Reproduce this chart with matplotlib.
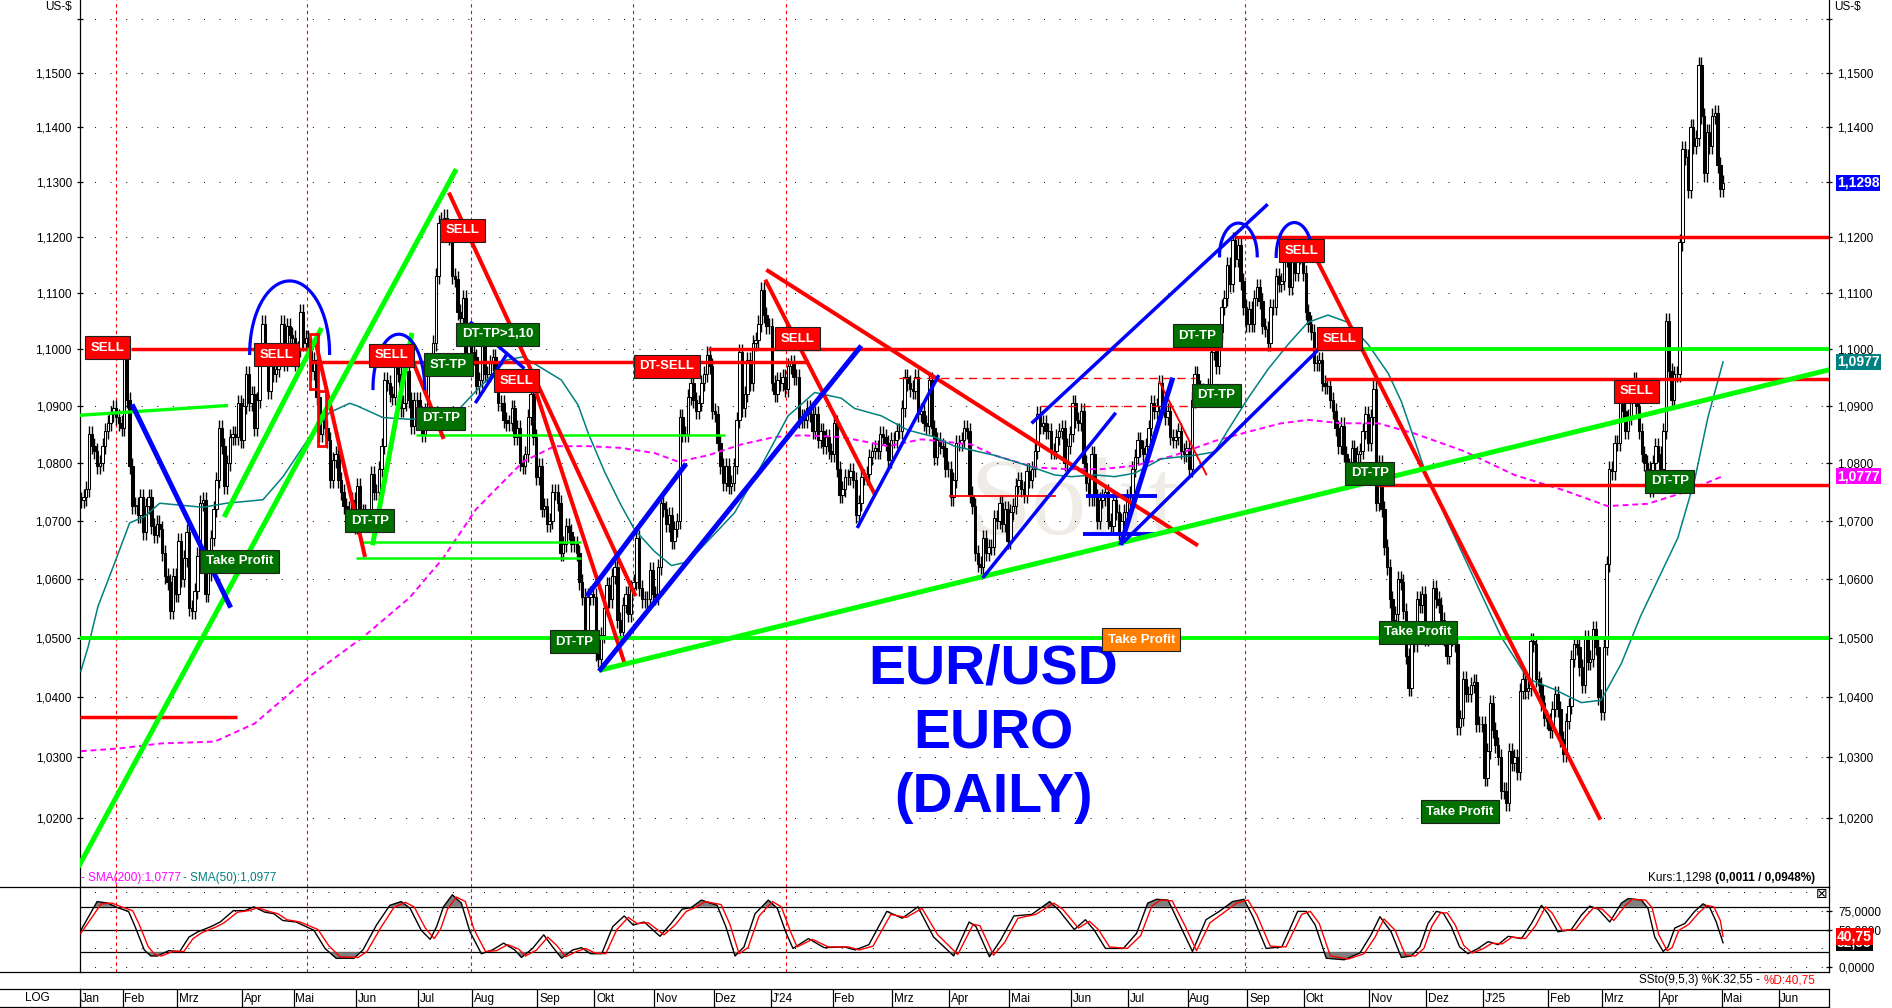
import numpy as np
import matplotlib
matplotlib.use("Agg")
import matplotlib.pyplot as plt
import matplotlib.transforms as mtransforms
from matplotlib.lines import Line2D
from matplotlib.patches import Rectangle
from matplotlib.ticker import FixedLocator, FuncFormatter, NullLocator, NullFormatter

plt.rcParams['font.family'] = ['Liberation Sans', 'DejaVu Sans']

# ---------------- data ----------------
month_names = ["Jan", "Feb", "Mrz", "Apr", "Mai", "Jun", "Jul", "Aug", "Sep", "Okt", "Nov", "Dez",
               "J'24", "Feb", "Mrz", "Apr", "Mai", "Jun", "Jul", "Aug", "Sep", "Okt", "Nov", "Dez",
               "J'25", "Feb", "Mrz", "Apr", "Mai", "Jun"]
month_days = [16, 20, 24, 19, 23, 23, 20, 24, 21, 22, 22, 21,
              23, 22, 21, 22, 23, 21, 22, 22, 21, 24, 21, 21,
              24, 20, 21, 23, 21, 19]

# daily closes, pips above 1,0000
close_2023 = [
    735, 740, 755, 850, 830, 820, 795, 800, 830, 855, 870, 885, 895, 880, 870, 860,
    990, 910, 795, 725, 727, 710, 740, 680, 725, 740, 690, 675, 695, 685, 645, 605, 595, 545, 605, 575,
    665, 600, 635, 680, 550, 545, 580, 640, 730, 735, 575, 610, 670, 720, 770, 860, 830, 760, 800, 845,
    850, 845, 905, 840,
    900, 955, 905, 920, 860, 910, 990, 1045, 990, 925, 970, 955, 965, 990, 1045, 975, 1040, 1025, 1020,
    975, 1000, 1065, 1010, 1020, 1005, 960, 980, 915, 850, 875, 860, 840, 770, 805, 815, 770, 750, 725,
    720, 705, 735, 690,
    760, 710, 715, 695, 700, 780, 750, 750, 790, 830, 945, 940, 920, 915, 980, 955, 895, 905, 960, 910,
    865, 910, 910,
    880, 850, 890, 970, 970, 1010, 1130, 1225, 1230, 1235, 1210, 1200, 1130, 1125, 1065, 1055, 1090, 975,
    1015, 995,
    985, 935, 945, 1005, 955, 955, 975, 985, 950, 905, 905, 875, 870, 870, 895, 845, 860, 800, 795, 815,
    880, 920, 845, 775,
    795, 720, 725, 695, 700, 750, 750, 730, 645, 660, 690, 680, 660, 660, 645, 595, 570, 500, 570, 575, 570,
    475, 465, 505, 550, 590, 565, 605, 620, 530, 510, 555, 575, 540, 585, 595, 670, 585, 565, 565, 565,
    615, 575,
    570, 620, 730, 720, 695, 710, 665, 685, 700, 880, 850, 850, 915, 940, 910, 890, 905, 940, 955, 990,
    970, 890,
    885, 835, 795, 765, 795, 760, 765, 795, 875, 995, 895, 920, 980, 940, 1010, 1015, 1045, 1105, 1060,
    1040, 1040,
]
close_2024 = [
    940, 920, 945, 940, 950, 930, 970, 975, 950, 950, 875, 880, 875, 895, 885, 855, 885, 840, 855, 830,
    845, 820, 815,
    870, 790, 745, 755, 775, 775, 785, 770, 710, 730, 775, 775, 780, 810, 820, 825, 820, 850, 845, 835,
    805, 840,
    840, 855, 855, 895, 950, 940, 930, 925, 950, 885, 890, 870, 865, 945, 860, 810, 840, 830, 825, 790, 790,
    740, 770, 835, 835, 840, 860, 855, 745, 725, 645, 625, 620, 670, 645, 655, 655, 705, 700, 730, 695,
    720, 665,
    715, 725, 760, 770, 755, 745, 785, 770, 790, 820, 885, 865, 870, 855, 855, 820, 820, 845, 855, 860,
    800, 830, 850,
    905, 875, 870, 890, 800, 765, 740, 815, 740, 700, 735, 740, 750, 700, 690, 735, 715, 680, 700, 715, 740,
    745, 790, 810, 840, 825, 815, 830, 860, 905, 890, 900, 940, 900, 880, 890, 845, 840, 845, 855, 820,
    815, 825,
    790, 910, 955, 930, 925, 920, 915, 935, 995, 1010, 970, 1030, 1075, 1090, 1150, 1115, 1195, 1160, 1185,
    1120, 1075, 1045,
    1070, 1045, 1090, 1110, 1085, 1040, 1035, 1010, 1075, 1075, 1130, 1115, 1120, 1160, 1165, 1110, 1180,
    1135, 1175, 1165, 1135,
    1065, 1045, 1030, 975, 975, 980, 940, 935, 935, 910, 890, 860, 830, 865, 815, 795, 780, 825, 795, 815,
    820, 855, 885, 835,
    880, 930, 730, 800, 720, 655, 620, 565, 530, 540, 600, 595, 545, 470, 415, 495, 490, 565, 555, 575, 500,
    510, 515, 585, 565, 555, 530, 500, 470, 500, 510, 490, 350, 365, 430, 405, 405, 420, 425, 355, 355, 355,
]
close_2025 = [
    265, 310, 390, 345, 320, 300, 245, 245, 225, 310, 290, 300, 275, 410, 430, 410, 415, 495, 490, 430,
    420, 390, 365, 360,
    345, 380, 405, 380, 330, 305, 360, 385, 465, 490, 485, 450, 420, 500, 460, 465, 515, 485, 400, 375,
    485, 625, 790, 785, 835, 835, 920, 890, 855, 880, 920, 945, 900, 855, 815, 800, 790, 755, 800, 830, 815,
    790, 855, 1050, 960, 910, 955, 955, 1190, 1360, 1345, 1285, 1400, 1365, 1380, 1515, 1420, 1315, 1390,
    1365, 1420, 1425, 1330, 1287,
    1298,
]

sma50_days = [0, 2.7, 6.3, 13.1, 18, 23.5, 29.1, 45.1, 53.7, 67.2, 74.6, 84.4, 91.8, 99.2, 101.7, 111.5,
              121.3, 128.7, 139.8, 145.9, 157, 163.2, 168.7, 177.3, 183.5, 187.2, 193.3, 199.4, 204.4, 211.7,
              217.9, 224, 231.4, 241.3, 251.1, 261, 270.8, 280.6, 285.5, 295.4, 305.2, 315, 322.4, 337.2,
              349.5, 359.3, 365.5, 374.1, 381.5, 388.9, 398.7, 411, 418.4, 423.3, 430.7, 438.1, 445.5,
              452.8, 460.2, 467.6, 475, 482.4, 487.3, 495.9, 504.5, 514.3, 524.2, 534, 543.8, 553.7, 561,
              568.5, 575.6, 582, 589.3, 595.5, 600.4, 606]
sma50_vals = [1.0444, 1.0485, 1.0553, 1.0635, 1.0696, 1.0707, 1.0730, 1.0723, 1.0730, 1.0736, 1.0776,
              1.0845, 1.0888, 1.0904, 1.0900, 1.0879, 1.0876, 1.0879, 1.0895, 1.0926, 1.0980, 1.0986,
              1.0970, 1.0945, 1.0901, 1.0852, 1.0784, 1.0726, 1.0684, 1.0647, 1.0623, 1.0629, 1.0665,
              1.0714, 1.0795, 1.0882, 1.0923, 1.0913, 1.0895, 1.0882, 1.0857, 1.0845, 1.0829, 1.0813,
              1.0795, 1.0779, 1.0776, 1.0779, 1.0776, 1.0782, 1.0807, 1.0813, 1.0819, 1.0857, 1.0913,
              1.0964, 1.1008, 1.1047, 1.1060, 1.1047, 1.1008, 1.0957, 1.0907, 1.0788, 1.0697, 1.0599,
              1.0501, 1.0431, 1.0413, 1.0391, 1.0395, 1.0457, 1.0537, 1.0599, 1.0670, 1.0770, 1.0879, 1.0977]

sma200_days = [0, 14.9, 29.7, 49.4, 64.1, 84.4, 104.1, 121.3, 133.6, 145.9, 163.2, 174.8, 187.2, 199.4,
               211.7, 220.4, 231.4, 243.7, 256, 265.9, 280.6, 297.9, 310.2, 328.6, 337.2, 352, 364.3, 376.6,
               388.9, 403.6, 418.4, 430.7, 443, 452.8, 465.2, 478.7, 492.2, 510.6, 529, 547.5, 563.4, 578.2,
               590.4, 606]
sma200_vals = [1.0310, 1.0315, 1.0323, 1.0326, 1.0356, 1.0435, 1.0501, 1.0568, 1.0635, 1.0720, 1.0802,
               1.0829, 1.0829, 1.0826, 1.0817, 1.0802, 1.0813, 1.0832, 1.0845, 1.0848, 1.0845, 1.0829,
               1.0841, 1.0832, 1.0813, 1.0792, 1.0789, 1.0789, 1.0795, 1.0813, 1.0838, 1.0854, 1.0869,
               1.0875, 1.0869, 1.0869, 1.0851, 1.0820, 1.0779, 1.0752, 1.0725, 1.0729, 1.0747, 1.0777]

# slow stochastic (9,5,3)
k_days = [0, 6, 10, 13.5, 17.6, 20, 23.4, 25.8, 28.3, 32.4, 36.5, 39.9, 43.2, 48.1, 51.4, 56.3, 60.5, 63.8,
          67.9, 71.2, 74.5, 79.4, 86, 90.1, 94.2, 100.8, 104.1, 109.1, 114, 118.2, 121.5, 125.6, 128.9,
          131.3, 133.8, 137.1, 140.4, 143.6, 147.8, 151.9, 156, 160.1, 162.6, 166.7, 170.8, 174.1, 177.4,
          181.5, 184.8, 188.1, 192.2, 196.3, 200.5, 203.8, 207.9, 213.7, 217.8, 221.9, 225.2, 229, 234.8,
          238, 241.4, 244.7, 248.8, 253.7, 257, 260.3, 262.8, 268.5, 274.3, 281.7, 285.8, 290.8, 297.4,
          303.1, 308.9, 314.7, 322.1, 327.8, 330.3, 335.3, 339.4, 344.3, 350.9, 357.5, 360.8, 366.6, 370.7,
          374, 378.1, 384.7, 389.6, 393.7, 397, 401.2, 406.1, 410.2, 415.2, 420.1, 425, 429.2, 432.5, 437.4,
          443.2, 449, 452.2, 455.5, 459.6, 466.2, 472, 476.1, 479.4, 483.5, 487.3, 491, 494.1, 497.1, 500.2,
          502.7, 505.7, 508.8, 511.9, 515.6, 519.3, 523, 526.7, 531.6, 535.3, 539, 541.4, 545.1, 550, 553.7,
          556.8, 559.9, 564.2, 568.5, 571, 575.9, 578.3, 580.8, 583.9, 585.7, 588.2, 591.9, 595.5, 598.6,
          601.1, 603.5, 606]
k_vals = [49, 87, 85, 79, 74, 54, 23, 15, 15, 22, 21, 40, 47, 54, 60, 75, 75, 80, 73, 71,
          62, 60, 49, 25, 12, 12, 23, 56, 82, 87, 78, 49, 37, 54, 80, 96, 85, 47, 18, 23,
          32, 23, 13, 25, 43, 27, 12, 23, 26, 18, 18, 54, 68, 56, 60, 41, 58, 77, 79, 89,
          82, 54, 15, 27, 71, 89, 78, 45, 25, 38, 26, 27, 23, 30, 74, 65, 80, 40, 15, 60,
          54, 14, 36, 68, 70, 87, 76, 50, 63, 49, 25, 25, 45, 85, 90, 89, 52, 21, 63, 74,
          87, 90, 67, 25, 27, 74, 74, 56, 12, 10, 19, 43, 67, 47, 13, 15, 27, 58, 74, 72,
          54, 27, 18, 25, 34, 30, 41, 38, 58, 82, 71, 47, 50, 69, 81, 77, 60, 85, 91, 89,
          78, 40, 21, 27, 52, 58, 74, 84, 79, 60, 32.55]
d_days = [0, 7.5, 11.5, 15, 19.1, 21.5, 24.9, 27.3, 29.8, 33.9, 38, 41.4, 44.7, 49.6, 52.9, 57.8, 62, 65.3,
          69.4, 72.7, 76, 80.9, 87.5, 91.6, 95.7, 102.3, 105.6, 110.6, 115.5, 119.7, 123, 127.1, 130.4,
          132.8, 135.3, 138.6, 141.9, 145.1, 149.3, 153.4, 157.5, 161.6, 164.1, 168.2, 172.3, 175.6, 178.9,
          183, 186.3, 189.6, 193.7, 197.8, 202, 205.3, 209.4, 215.2, 219.3, 223.4, 226.7, 230.5, 236.3,
          239.5, 242.9, 246.2, 250.3, 255.2, 258.5, 261.8, 264.3, 270, 275.8, 283.2, 287.3, 292.3, 298.9,
          304.6, 310.4, 316.2, 323.6, 329.3, 331.8, 336.8, 340.9, 345.8, 352.4, 359, 362.3, 368.1, 372.2,
          375.5, 379.6, 386.2, 391.1, 395.2, 398.5, 402.7, 407.6, 411.7, 416.7, 421.6, 426.5, 430.7, 434,
          438.9, 444.7, 450.5, 453.7, 457, 461.1, 467.7, 473.5, 477.6, 480.9, 485, 488.8, 492.5, 495.6,
          498.6, 501.7, 504.2, 507.2, 510.3, 513.4, 517.1, 520.8, 524.5, 528.2, 533.1, 536.8, 540.5, 542.9,
          546.6, 551.5, 555.2, 558.3, 561.4, 565.7, 570, 572.5, 577.4, 579.8, 582.3, 585.4, 587.2, 589.7,
          593.4, 597, 600.1, 602.6, 605, 606]
d_vals = [45, 84, 85, 80, 75, 57, 27, 17, 15, 21, 21, 38, 46, 53, 59, 73, 75, 79, 74, 71,
          63, 60, 50, 28, 14, 13, 21, 52, 79, 86, 80, 52, 38, 51, 77, 93, 87, 50, 21, 22,
          30, 24, 15, 23, 40, 29, 14, 21, 25, 19, 18, 50, 66, 58, 59, 43, 56, 74, 79, 87,
          83, 57, 18, 26, 68, 87, 80, 48, 27, 37, 27, 27, 23, 28, 70, 66, 78, 43, 17, 57,
          55, 16, 33, 65, 70, 85, 77, 52, 61, 50, 27, 25, 42, 81, 89, 88, 54, 22, 59, 72,
          85, 89, 69, 28, 27, 70, 74, 58, 15, 11, 18, 40, 64, 49, 16, 15, 25, 55, 72, 72,
          56, 29, 19, 24, 32, 31, 40, 38, 55, 80, 72, 49, 50, 67, 79, 77, 62, 82, 90, 89,
          79, 43, 22, 26, 49, 57, 72, 82, 80, 62, 40.75]

# chart annotations (trading-day index, price)
marker_days_red = [13.0, 83.3, 143.9, 260.1, 429.7]
marker_days_green = [203.9]

red_levels = [(1.1000, 18.6, 84.0), (1.0977, 84.3, 268.5), (1.1000, 231.5, 473.6), (1.1200, 425.8, 645.1),
              (1.0946, 459.0, 645.1), (1.0761, 478.7, 645.1), (1.0367, -0.5, 57.6)]
thin_red_levels = [(1.0742, 320.6, 359.3)]
dashed_red_levels = [(1.0949, 302.0, 411.0), (1.0900, 353.8, 411.0)]
green_levels = [(1.0500, -0.5, 645.1), (1.1000, 473.6, 645.1)]
thin_green_levels = [(1.0849, 123.8, 237.6), (1.0664, 102.9, 184.4), (1.0635, 101.7, 184.4)]
blue_levels = [(1.0742, 371.0, 397.3), (1.0677, 369.8, 396.0)]

red_trends = [((86.5, 1.1015), (104.7, 1.0641)), ((123.2, 1.0970), (133.6, 1.0845)),
              ((136.1, 1.1277), (204.4, 1.0574)), ((167.4, 1.0932), (200.7, 1.0456)),
              ((252.9, 1.1120), (292.9, 1.0746)), ((253.6, 1.1139), (411.6, 1.0659)),
              ((456.5, 1.1155), (560.4, 1.0200))]
thin_red_trends = [((398.0, 1.0942), (415.3, 1.0780))]
green_trends = [((-0.5, 1.0123), (138.1, 1.1319)), ((53.3, 1.0710), (88.4, 1.1033)),
                ((107.8, 1.0662), (122.0, 1.1024)), ((192.0, 1.0446), (644.3, 1.0962))]
thin_green_trends = [((-0.5, 1.0883), (53.7, 1.0900))]
blue_trends = [((19.3, 1.0898), (54.9, 1.0555)), ((187.2, 1.0574), (222.8, 1.0795)),
               ((191.8, 1.0447), (287.4, 1.1002)), ((384.0, 1.0662), (402.7, 1.0945))]
thin_blue_trends = [((144.1, 1.1046), (163.2, 1.0967)), ((145.9, 1.0907), (157.0, 1.0989)),
                    ((286.8, 1.0690), (316.3, 1.0951)), ((333.2, 1.0604), (381.5, 1.0885)),
                    ((351.3, 1.0871), (437.5, 1.1257)), ((385.2, 1.0665), (455.9, 1.0995))]
red_boxes = [(84.4, 87.5, 1.0929, 1.1026), (87.5, 90.6, 1.0829, 1.0926)]
blue_arcs = [(62.3, 91.8, 1.0992, 1.1121), (107.8, 126.9, 1.0930, 1.1026),
             (420.2, 434.1, 1.1166, 1.1225), (441.1, 454.5, 1.1165, 1.1226)]

label_texts = ["SELL", "SELL", "SELL", "SELL", "DT-TP>1,10", "ST-TP", "SELL", "DT-TP", "DT-TP",
               "Take Profit", "DT-SELL", "DT-TP", "SELL", "Take Profit", "DT-TP", "DT-TP", "SELL", "SELL",
               "DT-TP", "Take Profit", "Take Profit", "SELL", "DT-TP"]
label_days = [9.9, 72.3, 114.8, 140.9, 153.8, 135.7, 160.7, 132.8, 106.6, 58.5, 216.3, 182.0, 264.5,
              391.3, 412.1, 419.1, 450.5, 464.6, 475.7, 493.5, 509.0, 574.1, 586.4]
label_prices = [1.1002, 1.0990, 1.0989, 1.1212, 1.1026, 1.0972, 1.0944, 1.0878, 1.0700, 1.0630, 1.0969,
                1.0493, 1.1018, 1.0497, 1.1023, 1.0918, 1.1175, 1.1018, 1.0782, 1.0509, 1.0210, 1.0925,
                1.0768]
label_kinds = ["sell", "sell", "sell", "sell", "tp", "tp", "sell", "tp", "tp", "tp", "sell", "tp", "sell",
               "tp2", "tp", "tp", "sell", "sell", "tp", "tp", "tp", "sell", "tp"]

price_ticks = [1.02, 1.03, 1.04, 1.05, 1.06, 1.07, 1.08, 1.09, 1.10, 1.11, 1.12, 1.13, 1.14, 1.15, 1.16]

# ---------------- figure ----------------
W, H = 1892, 1008
fig = plt.figure(figsize=(W / 100, H / 100), dpi=100)
fig.patch.set_facecolor('white')


def box(x0, y0, x1, y1):
    return [x0 / W, 1 - y1 / H, (x1 - x0) / W, (y1 - y0) / H]


ax = fig.add_axes(box(79.5, 0, 1829, 887))
axs = fig.add_axes(box(79.5, 887, 1829, 971.7))
axd = fig.add_axes(box(79.5, 989, 1829, 1006.7))

XMIN, XMAX = -0.5, 645.1
for a in (ax, axs, axd):
    a.set_xlim(XMIN, XMAX)
    a.set_xticks([])
    for s in a.spines.values():
        s.set_linewidth(0.9)

closes = 1 + np.array(close_2023 + close_2024 + close_2025) / 10000.0
days = np.arange(len(closes))
opens = np.concatenate(([closes[0]], closes[:-1]))
up = closes >= opens
lo = np.minimum(opens, closes)
hi = np.maximum(opens, closes)

ax.set_yscale('log')
ax.set_ylim(1.00871, 1.16355)
ax.yaxis.set_major_locator(FixedLocator(price_ticks))
ax.yaxis.set_minor_locator(NullLocator())
ax.yaxis.set_minor_formatter(NullFormatter())
ax.yaxis.set_major_formatter(FuncFormatter(
    lambda v, p: "" if v > 1.155 else f"{v:.4f}".replace('.', ',')))
ax.tick_params(axis='y', which='major', direction='inout', length=4, width=0.9, labelsize=8.5,
               left=True, right=True, labelleft=True, labelright=True, pad=3.5)
ax.spines['top'].set_visible(False)

for p in price_ticks:
    ax.axhline(p, color='black', lw=0.7, ls=(1, (1, 15)), zorder=1)

# watermark
ax.text(0.509, 0.398, "Solit", transform=ax.transAxes, fontsize=80, family='Liberation Serif',
        color='#efece8', zorder=0.5, ha='left', va='baseline')

# candles
ax.vlines(days, lo / 1.0013, hi * 1.0013, color='black', lw=1.0, zorder=2)
ax.bar(days[up], (hi - lo)[up], bottom=lo[up], width=0.9, facecolor='white', edgecolor='black',
       linewidth=0.75, zorder=2.1)
ax.bar(days[~up], (hi - lo)[~up], bottom=lo[~up], width=0.9, facecolor='black', edgecolor='black',
       linewidth=0.75, zorder=2.1)

# moving averages
ax.plot(sma200_days, sma200_vals, color='#ff00ff', lw=1.4, dashes=(3, 2), zorder=3)
ax.plot(sma50_days, sma50_vals, color='#008080', lw=1.1, zorder=3)

# vertical marker lines
for d in marker_days_red:
    ax.axvline(d, color='#ff0000', lw=0.8, dashes=(3, 3), zorder=1.5)
    axs.axvline(d, color='#ff0000', lw=0.8, dashes=(3, 3), zorder=1.5)
for d in marker_days_green:
    ax.axvline(d, color='#008000', lw=0.8, dashes=(3, 3), zorder=1.5)
    axs.axvline(d, color='#008000', lw=0.8, dashes=(3, 3), zorder=1.5)

# horizontal levels
for p, d0, d1 in red_levels:
    ax.plot([d0, d1], [p, p], color='#ff0000', lw=2.5, zorder=4, solid_capstyle='butt')
for p, d0, d1 in thin_red_levels:
    ax.plot([d0, d1], [p, p], color='#ff0000', lw=1.3, zorder=4)
for p, d0, d1 in dashed_red_levels:
    ax.plot([d0, d1], [p, p], color='#ff0000', lw=1.0, dashes=(6, 4), zorder=4)
for p, d0, d1 in green_levels:
    ax.plot([d0, d1], [p, p], color='#00ff00', lw=2.8, zorder=4, solid_capstyle='butt')
for p, d0, d1 in thin_green_levels:
    ax.plot([d0, d1], [p, p], color='#00ff00', lw=1.8, zorder=4, solid_capstyle='butt')
for p, d0, d1 in blue_levels:
    ax.plot([d0, d1], [p, p], color='#0000ff', lw=2.8, zorder=4, solid_capstyle='butt')

# trend lines
for (d0, p0), (d1, p1) in red_trends:
    ax.plot([d0, d1], [p0, p1], color='#ff0000', lw=2.9, zorder=4)
for (d0, p0), (d1, p1) in thin_red_trends:
    ax.plot([d0, d1], [p0, p1], color='#ff0000', lw=1.4, zorder=4)
for (d0, p0), (d1, p1) in green_trends:
    ax.plot([d0, d1], [p0, p1], color='#00ff00', lw=3.6, zorder=4)
for (d0, p0), (d1, p1) in thin_green_trends:
    ax.plot([d0, d1], [p0, p1], color='#00ff00', lw=2.4, zorder=4)
for (d0, p0), (d1, p1) in blue_trends:
    ax.plot([d0, d1], [p0, p1], color='#0000ff', lw=3.6, zorder=4)
for (d0, p0), (d1, p1) in thin_blue_trends:
    ax.plot([d0, d1], [p0, p1], color='#0000ff', lw=2.5, zorder=4)
for d0, d1, p0, p1 in red_boxes:
    ax.add_patch(Rectangle((d0, p0), d1 - d0, p1 - p0, fill=False, edgecolor='#ff0000', lw=2.0, zorder=4))
t = np.linspace(0, np.pi, 40)
for d0, d1, pb, pk in blue_arcs:
    xs = (d0 + d1) / 2 - (d1 - d0) / 2 * np.cos(t)
    ys = np.exp(np.log(pb) + (np.log(pk) - np.log(pb)) * np.sin(t))
    ax.plot(xs, ys, color='#0000ff', lw=2.3, zorder=4)

# signal labels
kind_colors = {"sell": '#ff0000', "tp": '#007000', "tp2": '#ff8000'}
for txt, d, p, k in zip(label_texts, label_days, label_prices, label_kinds):
    ax.text(d, p, txt, ha='center', va='center', color='white', fontsize=9.5, fontweight='bold', zorder=6,
            bbox=dict(boxstyle='square,pad=0.42', facecolor=kind_colors[k], edgecolor='#202020', lw=0.8))

# big title
for line, yb in zip(["EUR/USD", "EURO", "(DAILY)"], [0.2293, 0.1567, 0.0846]):
    ax.text(0.5222, yb, line, transform=ax.transAxes, ha='center', va='baseline', fontsize=40,
            fontweight='bold', color='#0000ff', zorder=5)

# bottom texts in main panel
ax.text(0.001, 0.0071, "- SMA(200):" + f"{sma200_vals[-1]:.4f}".replace('.', ','), transform=ax.transAxes,
        fontsize=8.5, color='#ff00ff', va='baseline', ha='left', zorder=7)
ax.text(0.0592, 0.0071, "- SMA(50):" + f"{sma50_vals[-1]:.4f}".replace('.', ','), transform=ax.transAxes,
        fontsize=8.5, color='#008080', va='baseline', ha='left', zorder=7)
kurs_bold = ax.text(0.992, 0.0068, "(0,0011 / 0,0948%)", transform=ax.transAxes, fontsize=8.5,
                    fontweight='bold', va='baseline', ha='right')
kurs_norm = ax.text(0.932, 0.0068, "Kurs:1,1298 ", transform=ax.transAxes, fontsize=8.5,
                    va='baseline', ha='right')

# right value boxes (they hide the axis label underneath, as on the original)
trans = mtransforms.blended_transform_factory(ax.transAxes, ax.transData)
for val, col in [(closes[-1], '#0000ff'), (sma50_vals[-1], '#008080'), (sma200_vals[-1], '#ff00ff')]:
    ax.text(1.0045, val, f"{val:.4f}".replace('.', ','), transform=trans, ha='left', va='center',
            color='white', fontsize=10, fontweight='bold', zorder=7, clip_on=False,
            bbox=dict(boxstyle='square,pad=0.08', facecolor=col, edgecolor='none'))

fig.text(72 / W, 1 - 7 / H, "US-$", ha='right', va='center', fontsize=8.5)
fig.text(1834 / W, 1 - 7 / H, "US-$", ha='left', va='center', fontsize=8.5)

# ---------------- stochastic panel ----------------
axs.set_ylim(-5.8, 106.3)
axs.yaxis.set_major_locator(FixedLocator([0, 50, 75]))
axs.yaxis.set_major_formatter(FuncFormatter(lambda v, p: f"{v:.4f}".replace('.', ',')))
axs.tick_params(axis='y', direction='inout', length=4, width=0.9, labelsize=8.5, left=False,
                right=True, labelleft=False, labelright=True, pad=5)
for lv in (20, 50, 80):
    axs.axhline(lv, color='black', lw=0.9, zorder=1)
for lv in (0, 25, 75, 100):
    axs.axhline(lv, color='black', lw=0.7, ls=(1, (1, 15)), zorder=1)

kd = np.array(k_days)
kv = np.array(k_vals, dtype=float)
axs.fill_between(kd, kv, 80, where=kv > 80, interpolate=True, color='#808080', lw=0, zorder=2)
axs.fill_between(kd, kv, 20, where=kv < 20, interpolate=True, color='#808080', lw=0, zorder=2)
axs.plot(kd, kv, color='black', lw=1.0, zorder=3)
axs.plot(d_days, d_vals, color='#ff0000', lw=1.0, zorder=3.5)

transS = mtransforms.blended_transform_factory(axs.transAxes, axs.transData)
axs.text(1.0045, k_vals[-1], f"{k_vals[-1]:.2f}".replace('.', ','), transform=transS, ha='left',
         va='center', color='white', fontsize=10, fontweight='bold', zorder=7, clip_on=False,
         bbox=dict(boxstyle='square,pad=0.08', facecolor='black', edgecolor='none'))
axs.text(1.0045, d_vals[-1], f"{d_vals[-1]:.2f}".replace('.', ','), transform=transS, ha='left',
         va='center', color='white', fontsize=10, fontweight='bold', zorder=8, clip_on=False,
         bbox=dict(boxstyle='square,pad=0.08', facecolor='#ff0000', edgecolor='none'))

fig.text(1822 / W, 1 - 894 / H, "\u22a0", ha='center', va='center', fontsize=10, family='DejaVu Sans')
sto_d = fig.text(1815 / W, 1 - 983.5 / H, "%D:40,75", ha='right', va='baseline', fontsize=8.5,
                 color='#ff0000')
sto_k = fig.text(1757 / W, 1 - 983.5 / H, "SSto(9,5,3) %K:32,55 - ", ha='right', va='baseline',
                 fontsize=8.5)

# ---------------- date strip ----------------
axd.set_ylim(0, 1)
axd.set_yticks([])
starts = np.concatenate(([0], np.cumsum(month_days)[:-1]))
for s0, name in zip(starts, month_names):
    axd.axvline(s0 - 0.5, color='black', lw=0.9)
    axd.text(s0 - 0.5 + 0.6, 0.45, name, ha='left', va='center', fontsize=8.5)
fig.text(37 / W, 1 - 998 / H, "LOG", ha='center', va='center', fontsize=8.5)

for yy in (887, 971.7, 989, 1006.7):
    fig.add_artist(Line2D([0, 79.5 / W], [1 - yy / H] * 2, color='black', lw=0.9))

# join the two-coloured / two-weight text runs without gaps
fig.canvas.draw()
rend = fig.canvas.get_renderer()
x_left = sto_d.get_window_extent(rend).x0
sto_k.set_x(x_left / fig.bbox.width)
x_left = kurs_bold.get_window_extent(rend).x0
kurs_norm.set_x(ax.transAxes.inverted().transform((x_left, 0))[0])
for tk in ax.yaxis.get_major_ticks():
    if abs(tk.get_loc() - 1.13) < 1e-6:
        tk.label2.set_visible(False)

fig.savefig("out.png", dpi=100)
